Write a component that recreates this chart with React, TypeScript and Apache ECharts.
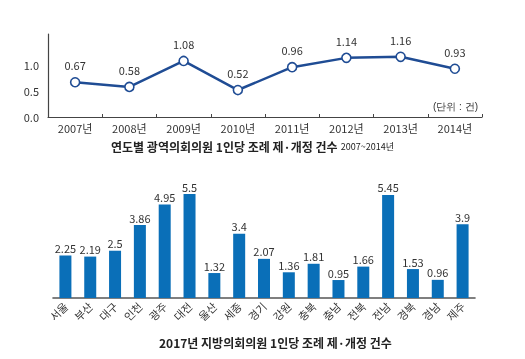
import React, { useEffect, useRef } from "react";
import * as echarts from "echarts";

const years = ["2007년", "2008년", "2009년", "2010년", "2011년", "2012년", "2013년", "2014년"];
const yearValues = [0.67, 0.58, 1.08, 0.52, 0.96, 1.14, 1.16, 0.93];

const regions = ["서울", "부산", "대구", "인천", "광주", "대전", "울산", "세종", "경기", "강원", "충북", "충남", "전북", "전남", "경북", "경남", "제주"];
const regionValues = [2.25, 2.19, 2.5, 3.86, 4.95, 5.5, 1.32, 3.4, 2.07, 1.36, 1.81, 0.95, 1.66, 5.45, 1.53, 0.96, 3.9];

const FONT = "'Noto Sans CJK KR', 'Noto Sans', sans-serif";

export default function App() {
  const ref = useRef<HTMLDivElement>(null);
  useEffect(() => {
    if (!ref.current) return;
    const chart = echarts.init(ref.current, null, { renderer: "svg" });
    chart.setOption({
      animation: false,
      textStyle: { fontFamily: FONT },
      grid: [
        { left: 48, right: 43, top: 34, height: 83 },
        { left: 53, right: 50, top: 194, height: 104 },
      ],
      xAxis: [
        {
          gridIndex: 0,
          type: "category",
          data: years,
          axisLine: { lineStyle: { color: "#444", width: 1.2 } },
          axisTick: { show: true, inside: true, length: 3, lineStyle: { color: "#444" } },
          axisLabel: { color: "#333", fontSize: 11, margin: 5, fontFamily: FONT },
        },
        {
          gridIndex: 1,
          type: "category",
          data: regions,
          axisLine: { lineStyle: { color: "#555", width: 1.6 } },
          axisTick: { show: false },
          axisLabel: { color: "#333", fontSize: 11, rotate: 45, margin: 6, interval: 0, fontFamily: FONT },
        },
      ],
      yAxis: [
        {
          gridIndex: 0,
          type: "value",
          min: 0,
          max: 1.6,
          interval: 0.5,
          splitLine: { show: false },
          axisLine: { show: true, lineStyle: { color: "#444", width: 1.2 } },
          axisTick: { show: false },
          axisLabel: {
            color: "#333",
            fontSize: 11,
            margin: 9,
            formatter: (v: number) => (v > 1.01 ? "" : v.toFixed(1)),
          },
        },
        {
          gridIndex: 1,
          type: "value",
          min: 0,
          max: 5.5,
          show: false,
          splitLine: { show: false },
        },
      ],
      series: [
        {
          type: "line",
          xAxisIndex: 0,
          yAxisIndex: 0,
          data: yearValues,
          symbol: "circle",
          symbolSize: 9,
          lineStyle: { color: "#1f4c94", width: 2.5 },
          itemStyle: { color: "#ffffff", borderColor: "#1f4c94", borderWidth: 1.6 },
          label: { show: true, position: "top", distance: 6, color: "#333", fontSize: 11, fontFamily: FONT },
        },
        {
          type: "bar",
          xAxisIndex: 1,
          yAxisIndex: 1,
          data: regionValues,
          barWidth: 12,
          itemStyle: { color: "#0a6fb8" },
          label: { show: true, position: "top", distance: 2, color: "#333", fontSize: 11, fontFamily: FONT },
        },
      ],
      graphic: [
        {
          type: "text",
          right: 47,
          top: 101,
          style: { text: "(단위 : 건)", fontSize: 10, fill: "#333", font: `10px ${FONT}` },
        },
        {
          type: "text",
          left: 111,
          top: 140,
          style: {
            text: "{a|연도별 광역의회의원 1인당 조례 제·개정 건수} {b|2007~2014년}",
            rich: {
              a: { fontSize: 12, fontWeight: "bold", fill: "#222", fontFamily: FONT },
              b: { fontSize: 9, fill: "#222", fontFamily: FONT },
            },
          },
        },
        {
          type: "text",
          left: 159,
          top: 336,
          style: {
            text: "2017년 지방의회의원 1인당 조례 제·개정 건수",
            fontSize: 12,
            fontWeight: "bold",
            fill: "#222",
            fontFamily: FONT,
          },
        },
      ],
    });
    return () => chart.dispose();
  }, []);
  return <div ref={ref} style={{ position: "fixed", left: 0, top: 0, width: 525, height: 359 }} />;
}
